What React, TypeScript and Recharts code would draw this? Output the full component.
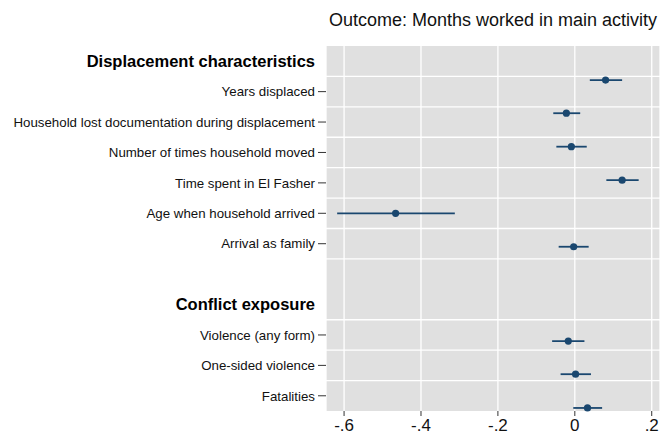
import {
  ComposedChart, Scatter, ErrorBar, XAxis, YAxis, CartesianGrid, ReferenceLine,
} from 'recharts'

// Row labels down the left side; headers are bold and carry no tick
const rowLabels = [
  'Displacement characteristics',
  'Years displaced',
  'Household lost documentation during displacement',
  'Number of times household moved',
  'Time spent in El Fasher',
  'Age when household arrived',
  'Arrival as family',
  '',
  'Conflict exposure',
  'Violence (any form)',
  'One-sided violence',
  'Fatalities',
]
const headerRows = [0, 8]

// Point estimates and 95% CIs
const coefNames = [
  'Years displaced',
  'Household lost documentation during displacement',
  'Number of times household moved',
  'Time spent in El Fasher',
  'Age when household arrived',
  'Arrival as family',
  'Violence (any form)',
  'One-sided violence',
  'Fatalities',
]
const coefs = [0.080, -0.022, -0.009, 0.123, -0.466, -0.003, -0.017, 0.002, 0.033]
const ciLow = [0.039, -0.056, -0.048, 0.082, -0.618, -0.042, -0.059, -0.037, -0.004]
const ciHigh = [0.123, 0.014, 0.031, 0.166, -0.312, 0.036, 0.025, 0.042, 0.071]
// marker rows (in row units, 0 = top)
const markerPos = [0.62, 1.71, 2.81, 3.91, 5.0, 6.1, 9.2, 10.29, 11.4]

const xTicks = [-0.6, -0.4, -0.2, 0, 0.2]
// horizontal separators between rows
const rowLines = [0.5, 1.5, 2.5, 3.5, 4.5, 5.5, 6.5, 8.5, 9.5, 10.5]

const NAVY = '#1a476f'
const FONT = '"Liberation Sans", Arial, sans-serif'

const points = coefNames.map((name, i) => ({
  name,
  coef: coefs[i],
  pos: markerPos[i],
  err: [coefs[i] - ciLow[i], ciHigh[i] - coefs[i]],
}))

const fmtX = (v: number) => (v === 0 ? '0' : v.toFixed(1).replace('0.', '.'))

function RowTick(props: any) {
  const { x, y, payload } = props
  const label = rowLabels[payload.value] ?? ''
  if (!label) return null
  if (headerRows.includes(payload.value)) {
    return (
      <text x={x} y={y} dy="0.36em" textAnchor="end" fontSize={16.5} fontWeight="bold" fill="#000" fontFamily={FONT}>
        {label}
      </text>
    )
  }
  return (
    <g>
      <line x1={x + 3} x2={x + 11} y1={y} y2={y} stroke="#333" strokeWidth={1} />
      <text x={x} y={y} dy="0.36em" textAnchor="end" fontSize={13.3} fill="#111" fontFamily={FONT}>
        {label}
      </text>
    </g>
  )
}

export default function App() {
  return (
    <div style={{ position: 'absolute', left: 0, top: 0, width: 660, height: 439, background: '#fff' }}>
      <div
        style={{
          position: 'absolute', top: 11, left: 326, width: 334, textAlign: 'center',
          fontFamily: FONT, fontSize: 18, lineHeight: '18px', color: '#111', whiteSpace: 'nowrap',
        }}
      >
        Outcome: Months worked in main activity
      </div>
      <ComposedChart width={660} height={439} data={points} margin={{ top: 46, right: 0, bottom: 0, left: 0 }}>
        <CartesianGrid horizontal={false} fill="#e0e0e0" stroke="#fff" strokeWidth={1.3} />
        <XAxis
          type="number"
          dataKey="coef"
          domain={[-0.647, 0.2215]}
          allowDataOverflow
          ticks={xTicks}
          tickFormatter={fmtX}
          height={28}
          axisLine={false}
          tickSize={5}
          tickMargin={3}
          tickLine={{ stroke: '#333' }}
          tick={{ fontSize: 17, fill: '#111', fontFamily: FONT }}
        />
        <YAxis
          type="number"
          dataKey="pos"
          domain={[-0.5, 11.5]}
          reversed
          ticks={rowLabels.map((_, i) => i)}
          interval={0}
          width={326}
          axisLine={false}
          tickLine={false}
          tickSize={8}
          tickMargin={3}
          tick={<RowTick />}
        />
        {rowLines.map(v => (
          <ReferenceLine key={v} y={v} stroke="#fff" strokeWidth={1.3} />
        ))}
        <Scatter dataKey="pos" fill={NAVY} isAnimationActive={false} shape={(p: any) => <circle cx={p.cx} cy={p.cy} r={3.6} fill={NAVY} />}>
          <ErrorBar dataKey="err" direction="x" width={0} stroke={NAVY} strokeWidth={1.8} />
        </Scatter>
      </ComposedChart>
    </div>
  )
}
